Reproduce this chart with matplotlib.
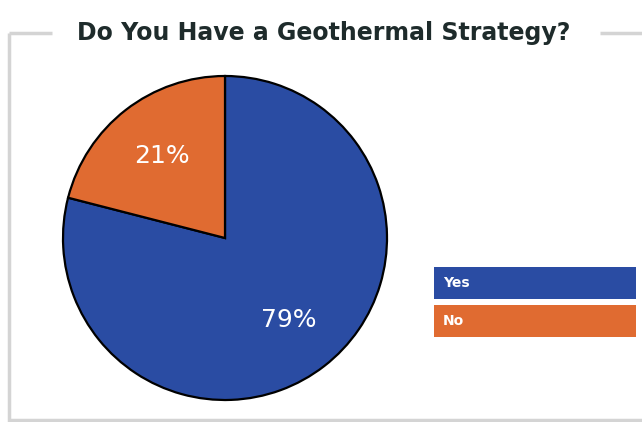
import matplotlib.pyplot as plt
from matplotlib.patches import Rectangle
from matplotlib.lines import Line2D

# survey answers
labels = ["Yes", "No"]
shares = [79, 21]
colors = ["#2a4ca3", "#e06b31"]

W, H = 642, 422
fig = plt.figure(figsize=(W / 100, H / 100), dpi=100)
fig.patch.set_facecolor("white")

def px(x, y):
    # pixel coords (top-left origin) -> figure fraction
    return x / W, 1 - y / H

# grey frame, broken at the top for the title
frame = "#d4d4d4"
for (x0, y0), (x1, y1) in [((9, 33), (52, 33)), ((600, 33), (642, 33)),
                           ((9, 33), (9, 422)), ((9, 420), (642, 420))]:
    a, b = px(x0, y0)
    c, d = px(x1, y1)
    fig.add_artist(Line2D([a, c], [b, d], color=frame, lw=2.5,
                          transform=fig.transFigure, solid_capstyle="butt"))

fig.text(*px(324, 33), "Do You Have a Geothermal Strategy?", ha="center",
         va="center", fontsize=17, fontweight="bold", color="#1e2b2b",
         family="DejaVu Sans")

# pie axes
cx, cy, r = 225, 238, 162
l, b = px(cx - r, cy + r)
ax = fig.add_axes([l, b, 2 * r / W, 2 * r / H])
wedges, texts, autotexts = ax.pie(
    shares, colors=colors, startangle=90, counterclock=False,
    autopct=lambda p: f"{p:.0f}%", pctdistance=0.64,
    wedgeprops=dict(edgecolor="black", linewidth=1.6))
for t in autotexts:
    t.set_color("white")
    t.set_fontsize(18)
ax.set_aspect("equal")
ax.set_xlim(-1.0, 1.0)
ax.set_ylim(-1.0, 1.0)

# legend boxes
for i, (lab, col) in enumerate(zip(labels, colors)):
    top = 267 + i * 38
    x0, y0 = px(434, top + 32)
    fig.add_artist(Rectangle((x0, y0), 202 / W, 32 / H, facecolor=col,
                             edgecolor="none", transform=fig.transFigure))
    fig.text(*px(443, top + 16), lab, ha="left", va="center", color="white",
             fontsize=10, fontweight="bold")

fig.savefig("out.png", dpi=100)
